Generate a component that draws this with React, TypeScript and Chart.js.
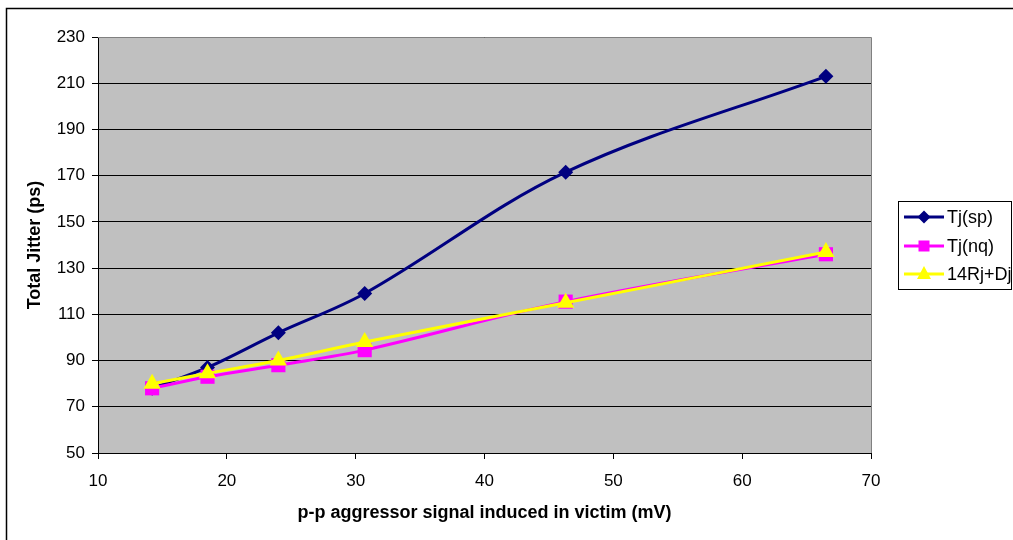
import React, { useEffect, useRef } from "react";
import { Chart, registerables } from "chart.js";

Chart.register(...registerables);

const xValues = [14.2, 18.5, 24.0, 30.7, 46.3, 66.5];
const tjSp = [78, 87, 102, 119, 171.5, 213];
const tjNq = [78, 83, 88, 94.5, 115.5, 136];
const rjDj = [80, 84.5, 90, 98, 115, 137];
const seriesNames = ["Tj(sp)", "Tj(nq)", "14Rj+Dj"];
const seriesColors = ["#000080", "#FF00FF", "#FFFF00"];
const seriesMarkers = ["rectRot", "rect", "triangle"];
const xTitle = "p-p aggressor signal induced in victim (mV)";
const yTitle = "Total Jitter (ps)";

const FONT = "Arial, 'Liberation Sans', sans-serif";

const pts = (ys: number[]) => ys.map((y, i) => ({ x: xValues[i], y }));

const frame = {
  id: "frame",
  beforeDraw(chart: any) {
    const { ctx, chartArea: a } = chart;
    ctx.save();
    ctx.fillStyle = "#fff";
    ctx.fillRect(0, 0, chart.width, chart.height);
    ctx.fillStyle = "#C0C0C0";
    ctx.fillRect(a.left, a.top, a.right - a.left, a.bottom - a.top);
    ctx.strokeStyle = "#000";
    ctx.lineWidth = 1.5;
    ctx.beginPath();
    ctx.moveTo(6.5, chart.height + 5);
    ctx.lineTo(6.5, 8.5);
    ctx.lineTo(chart.width + 5, 8.5);
    ctx.stroke();
    ctx.restore();
  },
  beforeDatasetsDraw(chart: any) {
    const { ctx, chartArea: a } = chart;
    ctx.save();
    ctx.strokeStyle = "#808080";
    ctx.lineWidth = 1;
    ctx.beginPath();
    ctx.moveTo(a.left, a.top + 0.5);
    ctx.lineTo(a.right + 0.5, a.top + 0.5);
    ctx.lineTo(a.right + 0.5, a.bottom);
    ctx.stroke();
    ctx.restore();
  },
  afterDraw(chart: any) {
    const { ctx } = chart;
    ctx.save();
    const bx = 898.5, by = 201.5, bw = 113, bh = 88;
    ctx.strokeStyle = "#000";
    ctx.lineWidth = 1;
    ctx.strokeRect(bx, by, bw, bh);
    const rows = [217, 246, 274];
    ctx.font = `18px ${FONT}`;
    ctx.textBaseline = "middle";
    chart.data.datasets.forEach((ds: any, i: number) => {
      const y = rows[i];
      ctx.strokeStyle = ds.borderColor;
      ctx.lineWidth = 3;
      ctx.beginPath();
      ctx.moveTo(904, y);
      ctx.lineTo(944, y);
      ctx.stroke();
      ctx.fillStyle = ds.borderColor;
      ctx.beginPath();
      const cx = 924;
      if (seriesMarkers[i] === "rectRot") {
        ctx.moveTo(cx, y - 6.5);
        ctx.lineTo(cx + 6.5, y);
        ctx.lineTo(cx, y + 6.5);
        ctx.lineTo(cx - 6.5, y);
      } else if (seriesMarkers[i] === "rect") {
        ctx.rect(cx - 5.5, y - 5.5, 11, 11);
      } else {
        ctx.moveTo(cx, y - 8);
        ctx.lineTo(cx + 7, y + 5);
        ctx.lineTo(cx - 7, y + 5);
      }
      ctx.closePath();
      ctx.fill();
      ctx.fillStyle = "#000";
      ctx.fillText(ds.label, 947, y + 1);
    });
    ctx.restore();
  },
};

export default function App() {
  const ref = useRef<HTMLCanvasElement>(null);
  useEffect(() => {
    if (!ref.current) return;
    const all = [tjSp, tjNq, rjDj];
    const radii = [7.5, 10, 10];
    const orders = [2, 1, 0];
    const chart = new Chart(ref.current, {
      type: "line",
      data: {
        datasets: all.map((ys, i) => ({
          label: seriesNames[i],
          data: pts(ys),
          borderColor: seriesColors[i],
          backgroundColor: seriesColors[i],
          borderWidth: 3,
          pointStyle: seriesMarkers[i] as any,
          pointRadius: radii[i],
          pointBorderWidth: 0,
          tension: 0.35,
          order: orders[i],
        })),
      },
      plugins: [frame],
      options: {
        animation: false,
        responsive: false,
        devicePixelRatio: 1,
        layout: { padding: { left: 0, top: 37, right: 142, bottom: 0 } },
        plugins: { legend: { display: false }, tooltip: { enabled: false } },
        scales: {
          x: {
            type: "linear",
            min: 10,
            max: 70,
            ticks: { stepSize: 10, color: "#000", font: { family: FONT, size: 17 }, padding: 12 },
            grid: { drawOnChartArea: false, drawTicks: true, tickLength: 6, color: "#000" },
            border: { color: "#000", width: 1 },
            title: { display: true, text: xTitle, color: "#000", font: { family: FONT, size: 18, weight: "bold" }, padding: { top: 0, bottom: 16 } },
            afterFit: (s: any) => { s.height = 87; },
          },
          y: {
            type: "linear",
            min: 50,
            max: 230,
            ticks: { stepSize: 20, color: "#000", font: { family: FONT, size: 17 }, padding: 7 },
            grid: { color: "#000", drawTicks: true, tickLength: 6 },
            border: { color: "#000", width: 1 },
            title: { display: true, text: yTitle, color: "#000", font: { family: FONT, size: 18, weight: "bold" }, padding: { top: 24, bottom: 0 } },
            afterFit: (s: any) => { s.width = 98; },
          },
        },
      },
    });
    return () => chart.destroy();
  }, []);
  return (
    <div style={{ position: "fixed", left: 0, top: 0, width: 1013, height: 540, background: "#fff" }}>
      <canvas ref={ref} width={1013} height={540} style={{ width: 1013, height: 540 }} />
    </div>
  );
}
